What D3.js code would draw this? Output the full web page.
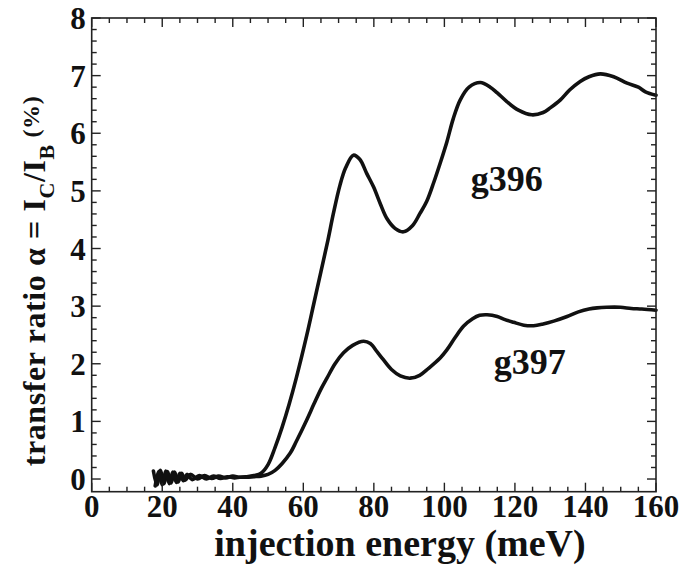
<!DOCTYPE html>
<html lang="en">
<head>
    <meta charset="UTF-8">
    <title>Transfer ratio vs injection energy</title>
    <script src="https://d3js.org/d3.v7.min.js"></script>
    <style>
        body { margin: 0; background: #fff; }
        svg text { font-family: "Liberation Serif", "Times New Roman", serif; fill: #111; }
        .tick-label { font-size: 31px; font-weight: bold; }
        .curve { fill: none; stroke: #111; stroke-width: 3.6px; stroke-linejoin: round; stroke-linecap: round; }
        .frame { fill: none; stroke: #222; stroke-width: 1.6px; }
        .tick { stroke: #222; stroke-width: 1.4px; }
    </style>
</head>
<body>
    <svg width="680" height="566"></svg>
    <script>
        // values (energy in meV, ratio in %)
        const g396Energy = [17.5, 18.5, 19.5, 20.5, 21.5, 22.5, 23.5, 24.5, 25.5, 26.5, 28, 30, 32, 34, 36, 38, 40, 42, 44, 46, 48,
            50, 52, 54, 56, 58, 61, 63, 65, 67, 68.5, 70.4, 72, 74.2, 76, 78, 79.9, 82, 83.7, 86, 88.4,
            91, 93, 95, 97, 98.8, 100.7, 102.5, 104.5, 107, 110.2, 113, 115, 117.7, 121, 124.8, 128, 130,
            132.9, 135.5, 138.5, 141, 144.2, 148, 151.8, 155, 157, 160];
        const g396Value = [0.14, -0.1, 0.15, -0.08, 0.13, -0.07, 0.12, -0.05, 0.1, -0.02, 0.08, 0.0, 0.06, 0.01, 0.05, 0.02, 0.05, 0.03, 0.04, 0.06, 0.1,
            0.25, 0.55, 0.9, 1.3, 1.75, 2.5, 3.05, 3.6, 4.15, 4.6, 5.1, 5.4, 5.62, 5.55, 5.3, 5.07, 4.75, 4.52, 4.35, 4.29,
            4.4, 4.6, 4.82, 5.15, 5.48, 5.85, 6.25, 6.58, 6.8, 6.88, 6.8, 6.7, 6.55, 6.4, 6.32, 6.36, 6.44,
            6.58, 6.75, 6.9, 6.98, 7.03, 6.98, 6.87, 6.8, 6.72, 6.66];

        const g397Energy = [18, 19, 20, 21, 22, 23, 24, 25, 26, 27, 28.5, 30.5, 32.5, 34.5, 36.5, 38.5, 40.5, 42, 44, 46, 48,
            50, 52, 54, 56.3, 58, 61, 63, 65, 66.7, 69, 71.4, 74, 77.1, 79, 81, 82.7, 85, 87.5, 90.3,
            93, 95.5, 98.8, 100.7, 103, 105.4, 108, 110, 112.1, 115, 117, 119.6, 122.5, 125.3, 128,
            131, 134.8, 138, 141, 143.3, 146, 149.9, 153, 156, 160];
        const g397Value = [-0.12, 0.13, -0.1, 0.14, -0.08, 0.12, -0.06, 0.1, -0.03, 0.08, -0.01, 0.06, 0.0, 0.05, 0.01, 0.04, 0.02, 0.03, 0.03, 0.04, 0.05,
            0.08, 0.15, 0.27, 0.45, 0.65, 1.03, 1.3, 1.56, 1.75, 2.0, 2.19, 2.32, 2.39, 2.35, 2.2, 2.07, 1.9, 1.79, 1.75,
            1.8, 1.92, 2.1, 2.24, 2.45, 2.65, 2.78, 2.84, 2.85, 2.82, 2.77, 2.72, 2.67, 2.66, 2.69,
            2.74, 2.82, 2.9, 2.95, 2.97, 2.98, 2.98, 2.96, 2.95, 2.93];

        const xTicks = [0, 20, 40, 60, 80, 100, 120, 140, 160];
        const yTicks = [0, 1, 2, 3, 4, 5, 6, 7, 8];

        const seriesLabels = [
            { name: "g396", energy: 107.5, value: 5.0 },
            { name: "g397", energy: 114, value: 1.82 }
        ];

        const plotLeft = 91.7, plotRight = 656, plotTop = 18, plotBottom = 491.7;

        const svg = d3.select("svg");

        const x = d3.scaleLinear().domain([0, 160]).range([plotLeft, plotRight]);
        const y = d3.scaleLinear().domain([-0.22, 8]).range([plotBottom, plotTop]);

        // curves
        const line = d3.line()
            .x(d => x(d[0]))
            .y(d => y(d[1]))
            .curve(d3.curveCatmullRom.alpha(0.5));

        const curves = [
            d3.zip(g396Energy, g396Value),
            d3.zip(g397Energy, g397Value)
        ];

        svg.append("g")
            .selectAll("path")
            .data(curves)
            .enter().append("path")
            .attr("class", "curve")
            .attr("d", line);

        // inward ticks on all four sides
        const xMinor = d3.range(0, 161, 5).filter(v => v % 20 !== 0);
        const yMinor = d3.range(0, 8.01, 0.2).filter(v => Math.abs(v - Math.round(v)) > 0.01);

        const axisG = svg.append("g");

        function addTicks(values, len, horizontal) {
            values.forEach(v => {
                if (horizontal) {
                    axisG.append("line").attr("class", "tick")
                        .attr("x1", x(v)).attr("x2", x(v))
                        .attr("y1", plotBottom).attr("y2", plotBottom - len);
                    axisG.append("line").attr("class", "tick")
                        .attr("x1", x(v)).attr("x2", x(v))
                        .attr("y1", plotTop).attr("y2", plotTop + len);
                } else {
                    axisG.append("line").attr("class", "tick")
                        .attr("x1", plotLeft).attr("x2", plotLeft + len)
                        .attr("y1", y(v)).attr("y2", y(v));
                    axisG.append("line").attr("class", "tick")
                        .attr("x1", plotRight).attr("x2", plotRight - len)
                        .attr("y1", y(v)).attr("y2", y(v));
                }
            });
        }
        addTicks(xTicks, 9, true);
        addTicks(xMinor, 5, true);
        addTicks(yTicks, 9, false);
        addTicks(yMinor, 5, false);

        axisG.append("rect").attr("class", "frame")
            .attr("x", plotLeft).attr("y", plotTop)
            .attr("width", plotRight - plotLeft).attr("height", plotBottom - plotTop);

        // tick labels
        svg.append("g").selectAll("text")
            .data(xTicks)
            .enter().append("text")
            .attr("class", "tick-label")
            .attr("x", d => x(d))
            .attr("y", 517)
            .attr("text-anchor", "middle")
            .text(d => d);

        svg.append("g").selectAll("text")
            .data(yTicks)
            .enter().append("text")
            .attr("class", "tick-label")
            .attr("x", plotLeft - 6)
            .attr("y", d => y(d) + 11)
            .attr("text-anchor", "end")
            .text(d => d);

        // axis titles
        svg.append("text")
            .attr("x", 400)
            .attr("y", 556)
            .attr("text-anchor", "middle")
            .style("font-size", "38px")
            .style("font-weight", "bold")
            .text("injection energy (meV)");

        const yTitle = svg.append("text")
            .attr("transform", "translate(45,281) rotate(-90)")
            .attr("text-anchor", "middle")
            .style("font-size", "32px")
            .style("font-weight", "bold")
            .style("letter-spacing", "0.6px");
        yTitle.append("tspan").text("transfer ratio \u03b1 = I");
        yTitle.append("tspan").attr("dy", 9).style("font-size", "22px").text("C");
        yTitle.append("tspan").attr("dy", -9).text("/I");
        yTitle.append("tspan").attr("dy", 9).style("font-size", "22px").text("B");
        yTitle.append("tspan").attr("dy", -15).style("font-size", "24px").text(" (%)");

        // series labels
        svg.append("g").selectAll("text")
            .data(seriesLabels)
            .enter().append("text")
            .attr("x", d => x(d.energy))
            .attr("y", d => y(d.value))
            .style("font-size", "36px")
            .style("font-weight", "bold")
            .text(d => d.name);
    </script>
</body>
</html>
